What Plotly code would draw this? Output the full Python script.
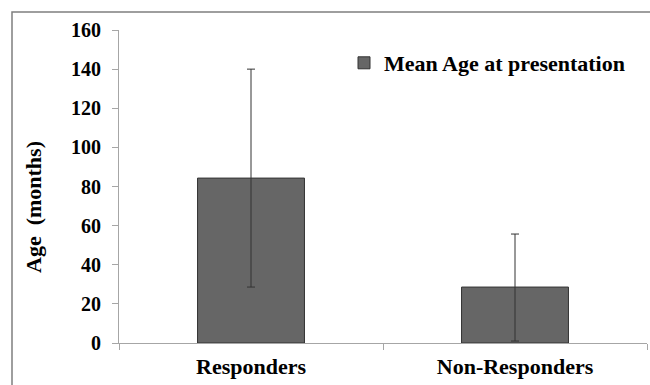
import plotly.graph_objects as go

categories = ["Responders", "Non-Responders"]
mean_age = [84.3, 28.6]
err_plus = [55.7, 27.1]
err_minus = [55.7, 27.6]
y_ticks = [0, 20, 40, 60, 80, 100, 120, 140, 160]
series_name = "Mean Age at presentation"

W, H = 650, 385
L, R, T, B = 119, 3, 30, 42
pw, ph = W - L - R, H - T - B

font_family = "Liberation Serif"

fig = go.Figure()
fig.add_trace(go.Bar(
    x=categories, y=mean_age, name=series_name,
    marker=dict(color="#666666", line=dict(color="#333333", width=1)),
    error_y=dict(type="data", symmetric=False, array=err_plus, arrayminus=err_minus,
                 color="#333333", thickness=1, width=4),
    showlegend=True,
))

fig.update_layout(
    width=W, height=H,
    margin=dict(l=L, r=R, t=T, b=B),
    plot_bgcolor="white", paper_bgcolor="white",
    bargap=0.595,
    font=dict(family=font_family, color="black"),
    showlegend=True,
    legend=dict(x=(344 - L) / pw, y=1 - (42 - T) / ph, xanchor="left", yanchor="top",
                bgcolor="rgba(0,0,0,0)",
                font=dict(family=font_family, size=22, color="black", weight="bold")),
    xaxis=dict(
        showline=True, linecolor="#a6a6a6", linewidth=1,
        ticks="outside", tickson="boundaries", ticklen=6, tickcolor="#a6a6a6",
        tickfont=dict(family=font_family, size=22, color="black", weight="bold"),
        ticklabelstandoff=4,
        showgrid=False, zeroline=False,
    ),
    yaxis=dict(
        range=[0, 160], tickvals=y_ticks,
        showline=True, linecolor="#a6a6a6", linewidth=1,
        ticks="outside", ticklen=6, tickcolor="#a6a6a6",
        tickfont=dict(family=font_family, size=20, color="black", weight="bold"),
        ticklabelstandoff=7,
        showgrid=False, zeroline=False,
    ),
)

fig.add_annotation(
    text="Age\u00a0 (months)", textangle=-90,
    xref="paper", yref="paper",
    x=(33 - L) / pw, y=1 - (207 - T) / ph,
    xanchor="center", yanchor="middle", showarrow=False,
    font=dict(family=font_family, size=22, color="black", weight="bold"),
)

fig.add_shape(
    type="rect", xref="paper", yref="paper",
    x0=(12 - L) / pw, x1=(700 - L) / pw,
    y0=1 - (420 - T) / ph, y1=1 + (T - 12) / ph,
    line=dict(color="#7f7f7f", width=1.5), fillcolor="rgba(0,0,0,0)", layer="above",
)

fig.write_html("out.html", config={"displayModeBar": False},
               post_script="document.body.style.margin='0px';")
